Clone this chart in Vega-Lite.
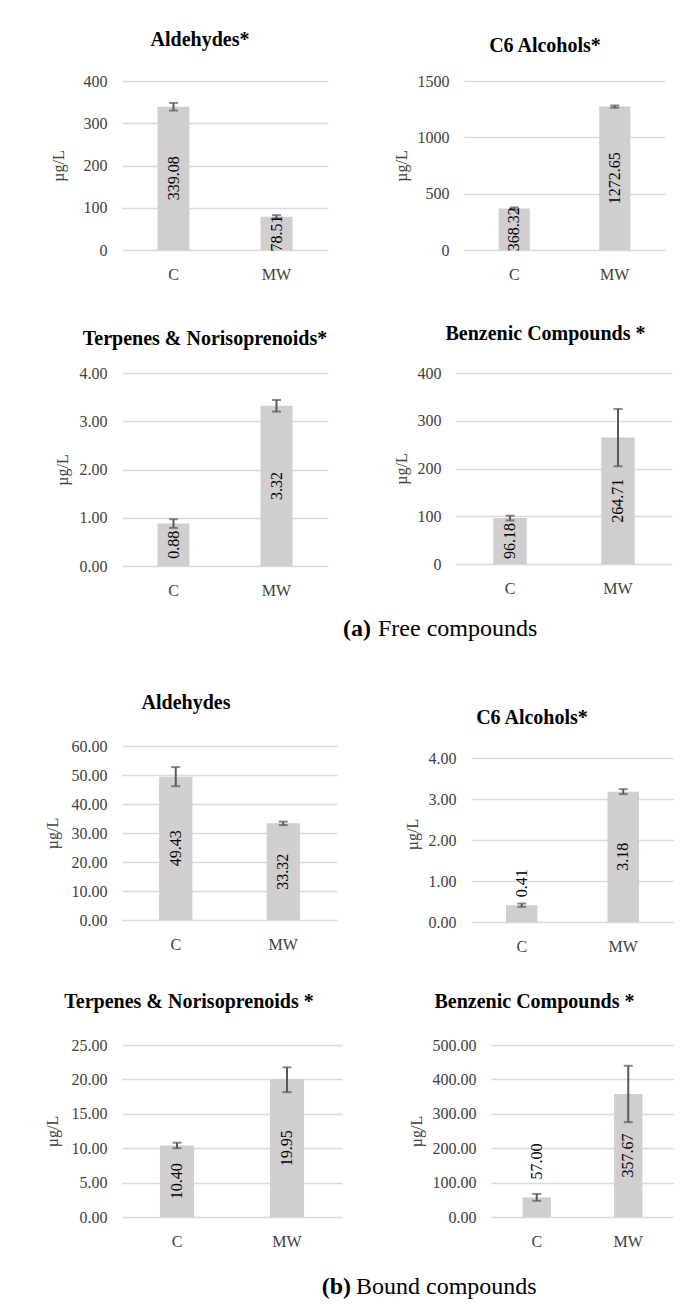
{
  "$schema": "https://vega.github.io/schema/vega-lite/v6.json",
  "background": "white",
  "autosize": {"type": "pad"},
  "padding": {"left": 44, "top": 30, "right": 0, "bottom": 0},
  "config": {
    "font": "Liberation Serif",
    "view": {"stroke": null},
    "title": {"font": "Liberation Serif", "fontSize": 20, "fontWeight": "bold", "color": "#000000", "frame": "group", "anchor": "middle", "baseline": "alphabetic"},
    "axisY": {"grid": true, "gridColor": "#d9d9d9", "gridWidth": 1.3, "domain": false, "ticks": false, "labelPadding": 15, "labelFontSize": 16, "labelColor": "#404040", "titleFontSize": 16, "titleFontWeight": "normal", "titleColor": "#404040", "titlePadding": 8},
    "axisX": {"grid": false, "domain": false, "ticks": false, "labelAngle": 0, "labelPadding": 16, "labelFontSize": 16, "labelColor": "#404040"}
  },
  "datasets": {
    "free_aldehydes": [{"group": "C", "value": 339.08, "sd": 9}, {"group": "MW", "value": 78.51, "sd": 4}],
    "free_c6": [{"group": "C", "value": 368.32, "sd": 10}, {"group": "MW", "value": 1272.65, "sd": 10}],
    "free_terp": [{"group": "C", "value": 0.88, "sd": 0.09}, {"group": "MW", "value": 3.32, "sd": 0.12}],
    "free_benz": [{"group": "C", "value": 96.18, "sd": 5}, {"group": "MW", "value": 264.71, "sd": 60}],
    "bound_aldehydes": [{"group": "C", "value": 49.43, "sd": 3.3}, {"group": "MW", "value": 33.32, "sd": 0.6}],
    "bound_c6": [{"group": "C", "value": 0.41, "sd": 0.04}, {"group": "MW", "value": 3.18, "sd": 0.06}],
    "bound_terp": [{"group": "C", "value": 10.40, "sd": 0.4}, {"group": "MW", "value": 19.95, "sd": 1.8}],
    "bound_benz": [{"group": "C", "value": 57.00, "sd": 10}, {"group": "MW", "value": 357.67, "sd": 82}],
    "cap_a": [{"label": "(a)", "caption": "Free compounds"}],
    "cap_b": [{"label": "(b)", "caption": "Bound compounds"}]
  },
  "vconcat": [
    {
      "vconcat": [
        {
          "vconcat": [
            {
              "hconcat": [
                {
                  "title": {"text": "Aldehydes*", "offset": 23, "dx": -25},
                  "width": 206, "height": 169,
                  "data": {"name": "free_aldehydes"},
                  "resolve": {"scale": {"y": "independent"}},
                  "layer": [
                    {"mark": {"type": "bar", "color": "#d0cece", "width": {"band": 0.31}},
                     "encoding": {
                       "x": {"field": "group", "type": "nominal", "sort": ["C", "MW"], "title": null, "scale": {"paddingInner": 0, "paddingOuter": 0}},
                       "y": {"field": "value", "type": "quantitative", "scale": {"domain": [0, 400], "nice": false}, "axis": {"title": "µg/L", "titlePadding": 17, "values": [0, 100, 200, 300, 400], "format": "d"}}}},
                    {"mark": {"type": "errorbar", "color": "#595959", "thickness": 2, "ticks": {"size": 9, "thickness": 2}},
                     "encoding": {
                       "x": {"field": "group", "type": "nominal", "sort": ["C", "MW"], "title": null},
                       "y": {"field": "value", "type": "quantitative", "scale": {"domain": [0, 400], "nice": false}, "axis": null},
                       "yError": {"field": "sd"}}},
                    {"mark": {"type": "text", "angle": 270, "fontSize": 16, "color": "#000000", "baseline": "middle"},
                     "encoding": {
                       "x": {"field": "group", "type": "nominal", "sort": ["C", "MW"], "title": null},
                       "y": {"field": "value", "type": "quantitative", "scale": {"domain": [0, 800], "nice": false}, "axis": null},
                       "text": {"field": "value", "type": "quantitative", "format": ".2f"}}}
                  ]
                },
                {
                  "title": {"text": "C6 Alcohols*", "offset": 17, "dx": -19.5},
                  "width": 201, "height": 169,
                  "data": {"name": "free_c6"},
                  "resolve": {"scale": {"y": "independent"}},
                  "layer": [
                    {"mark": {"type": "bar", "color": "#d0cece", "width": {"band": 0.31}},
                     "encoding": {
                       "x": {"field": "group", "type": "nominal", "sort": ["C", "MW"], "title": null, "scale": {"paddingInner": 0, "paddingOuter": 0}},
                       "y": {"field": "value", "type": "quantitative", "scale": {"domain": [0, 1500], "nice": false}, "axis": {"title": "µg/L", "values": [0, 500, 1000, 1500], "format": "d"}}}},
                    {"mark": {"type": "errorbar", "color": "#595959", "thickness": 2, "ticks": {"size": 9, "thickness": 2}},
                     "encoding": {
                       "x": {"field": "group", "type": "nominal", "sort": ["C", "MW"], "title": null},
                       "y": {"field": "value", "type": "quantitative", "scale": {"domain": [0, 1500], "nice": false}, "axis": null},
                       "yError": {"field": "sd"}}},
                    {"mark": {"type": "text", "angle": 270, "fontSize": 16, "color": "#000000", "baseline": "middle"},
                     "encoding": {
                       "x": {"field": "group", "type": "nominal", "sort": ["C", "MW"], "title": null},
                       "y": {"field": "value", "type": "quantitative", "scale": {"domain": [0, 3000], "nice": false}, "axis": null},
                       "text": {"field": "value", "type": "quantitative", "format": ".2f"}}}
                  ]
                }
              ],
              "spacing": 136,
              "bounds": "flush"
            },
            {
              "hconcat": [
                {
                  "title": {"text": "Terpenes & Norisoprenoids*", "offset": 16, "dx": -20},
                  "width": 206, "height": 193,
                  "data": {"name": "free_terp"},
                  "resolve": {"scale": {"y": "independent"}},
                  "layer": [
                    {"mark": {"type": "bar", "color": "#d0cece", "width": {"band": 0.31}},
                     "encoding": {
                       "x": {"field": "group", "type": "nominal", "sort": ["C", "MW"], "title": null, "scale": {"paddingInner": 0, "paddingOuter": 0}},
                       "y": {"field": "value", "type": "quantitative", "scale": {"domain": [0, 4], "nice": false}, "axis": {"title": "µg/L", "titlePadding": 8.5, "values": [0, 1, 2, 3, 4], "format": ".2f"}}}},
                    {"mark": {"type": "errorbar", "color": "#595959", "thickness": 2, "ticks": {"size": 9, "thickness": 2}},
                     "encoding": {
                       "x": {"field": "group", "type": "nominal", "sort": ["C", "MW"], "title": null},
                       "y": {"field": "value", "type": "quantitative", "scale": {"domain": [0, 4], "nice": false}, "axis": null},
                       "yError": {"field": "sd"}}},
                    {"mark": {"type": "text", "angle": 270, "fontSize": 16, "color": "#000000", "baseline": "middle"},
                     "encoding": {
                       "x": {"field": "group", "type": "nominal", "sort": ["C", "MW"], "title": null},
                       "y": {"field": "value", "type": "quantitative", "scale": {"domain": [0, 8], "nice": false}, "axis": null},
                       "text": {"field": "value", "type": "quantitative", "format": ".2f"}}}
                  ]
                },
                {
                  "title": {"text": "Benzenic Compounds *", "offset": 21, "dx": -18.5},
                  "width": 216, "height": 191,
                  "data": {"name": "free_benz"},
                  "resolve": {"scale": {"y": "independent"}},
                  "layer": [
                    {"mark": {"type": "bar", "color": "#d0cece", "width": {"band": 0.31}},
                     "encoding": {
                       "x": {"field": "group", "type": "nominal", "sort": ["C", "MW"], "title": null, "scale": {"paddingInner": 0, "paddingOuter": 0}},
                       "y": {"field": "value", "type": "quantitative", "scale": {"domain": [0, 400], "nice": false}, "axis": {"title": "µg/L", "values": [0, 100, 200, 300, 400], "format": "d"}}}},
                    {"mark": {"type": "errorbar", "color": "#595959", "thickness": 2, "ticks": {"size": 9, "thickness": 2}},
                     "encoding": {
                       "x": {"field": "group", "type": "nominal", "sort": ["C", "MW"], "title": null},
                       "y": {"field": "value", "type": "quantitative", "scale": {"domain": [0, 400], "nice": false}, "axis": null},
                       "yError": {"field": "sd"}}},
                    {"mark": {"type": "text", "angle": 270, "fontSize": 16, "color": "#000000", "baseline": "middle"},
                     "encoding": {
                       "x": {"field": "group", "type": "nominal", "sort": ["C", "MW"], "title": null},
                       "y": {"field": "value", "type": "quantitative", "scale": {"domain": [0, 800], "nice": false}, "axis": null},
                       "text": {"field": "value", "type": "quantitative", "format": ".2f"}}}
                  ]
                }
              ],
              "spacing": 128,
              "bounds": "flush"
            }
          ],
          "spacing": 42
        },
        {
          "width": 504, "height": 24,
          "data": {"name": "cap_a"},
          "layer": [
            {"mark": {"type": "text", "align": "right", "baseline": "middle", "fontSize": 24, "fontWeight": "bold", "color": "#000000", "dx": -3},
             "encoding": {"text": {"field": "label", "type": "nominal"}}},
            {"mark": {"type": "text", "align": "left", "baseline": "middle", "fontSize": 24, "color": "#000000", "dx": 4},
             "encoding": {"text": {"field": "caption", "type": "nominal"}}}
          ]
        }
      ],
      "spacing": 19
    },
    {
      "vconcat": [
        {
          "vconcat": [
            {
              "hconcat": [
                {
                  "title": {"text": "Aldehydes", "offset": 25, "dx": -43.5},
                  "width": 215, "height": 174,
                  "data": {"name": "bound_aldehydes"},
                  "resolve": {"scale": {"y": "independent"}},
                  "layer": [
                    {"mark": {"type": "bar", "color": "#d0cece", "width": {"band": 0.31}},
                     "encoding": {
                       "x": {"field": "group", "type": "nominal", "sort": ["C", "MW"], "title": null, "scale": {"paddingInner": 0, "paddingOuter": 0}},
                       "y": {"field": "value", "type": "quantitative", "scale": {"domain": [0, 60], "nice": false}, "axis": {"title": "µg/L", "titlePadding": 11, "values": [0, 10, 20, 30, 40, 50, 60], "format": ".2f"}}}},
                    {"mark": {"type": "errorbar", "color": "#595959", "thickness": 2, "ticks": {"size": 9, "thickness": 2}},
                     "encoding": {
                       "x": {"field": "group", "type": "nominal", "sort": ["C", "MW"], "title": null},
                       "y": {"field": "value", "type": "quantitative", "scale": {"domain": [0, 60], "nice": false}, "axis": null},
                       "yError": {"field": "sd"}}},
                    {"mark": {"type": "text", "angle": 270, "fontSize": 16, "color": "#000000", "baseline": "middle"},
                     "encoding": {
                       "x": {"field": "group", "type": "nominal", "sort": ["C", "MW"], "title": null},
                       "y": {"field": "value", "type": "quantitative", "scale": {"domain": [0, 120], "nice": false}, "axis": null},
                       "text": {"field": "value", "type": "quantitative", "format": ".2f"}}}
                  ]
                },
                {
                  "title": {"text": "C6 Alcohols*", "offset": 18, "dx": -40.5},
                  "width": 203, "height": 176,
                  "data": {"name": "bound_c6"},
                  "resolve": {"scale": {"y": "independent"}},
                  "layer": [
                    {"mark": {"type": "bar", "color": "#d0cece", "width": {"band": 0.31}},
                     "encoding": {
                       "x": {"field": "group", "type": "nominal", "sort": ["C", "MW"], "title": null, "scale": {"paddingInner": 0, "paddingOuter": 0}},
                       "y": {"field": "value", "type": "quantitative", "scale": {"domain": [0, 4.293], "nice": false}, "axis": {"title": "µg/L", "values": [0, 1, 2, 3, 4], "format": ".2f"}}}},
                    {"mark": {"type": "errorbar", "color": "#595959", "thickness": 2, "ticks": {"size": 9, "thickness": 2}},
                     "encoding": {
                       "x": {"field": "group", "type": "nominal", "sort": ["C", "MW"], "title": null},
                       "y": {"field": "value", "type": "quantitative", "scale": {"domain": [0, 4.293], "nice": false}, "axis": null},
                       "yError": {"field": "sd"}}},
                    {"transform": [{"filter": "datum.group == 'MW'"}],
                     "mark": {"type": "text", "angle": 270, "fontSize": 16, "color": "#000000", "baseline": "middle"},
                     "encoding": {
                       "x": {"field": "group", "type": "nominal", "sort": ["C", "MW"], "title": null},
                       "y": {"field": "value", "type": "quantitative", "scale": {"domain": [0, 8.586], "nice": false}, "axis": null},
                       "text": {"field": "value", "type": "quantitative", "format": ".2f"}}},
                    {"transform": [{"filter": "datum.group == 'C'"}],
                     "mark": {"type": "text", "angle": 270, "fontSize": 16, "color": "#000000", "baseline": "middle", "align": "left", "dx": 8},
                     "encoding": {
                       "x": {"field": "group", "type": "nominal", "sort": ["C", "MW"], "title": null},
                       "y": {"field": "value", "type": "quantitative", "scale": {"domain": [0, 4.293], "nice": false}, "axis": null},
                       "text": {"field": "value", "type": "quantitative", "format": ".2f"}}}
                  ]
                }
              ],
              "spacing": 134,
              "bounds": "flush"
            },
            {
              "hconcat": [
                {
                  "title": {"text": "Terpenes & Norisoprenoids *", "offset": 25, "dx": -43},
                  "width": 220, "height": 172,
                  "data": {"name": "bound_terp"},
                  "resolve": {"scale": {"y": "independent"}},
                  "layer": [
                    {"mark": {"type": "bar", "color": "#d0cece", "width": {"band": 0.31}},
                     "encoding": {
                       "x": {"field": "group", "type": "nominal", "sort": ["C", "MW"], "title": null, "scale": {"paddingInner": 0, "paddingOuter": 0}},
                       "y": {"field": "value", "type": "quantitative", "scale": {"domain": [0, 25], "nice": false}, "axis": {"title": "µg/L", "titlePadding": 10.5, "values": [0, 5, 10, 15, 20, 25], "format": ".2f"}}}},
                    {"mark": {"type": "errorbar", "color": "#595959", "thickness": 2, "ticks": {"size": 9, "thickness": 2}},
                     "encoding": {
                       "x": {"field": "group", "type": "nominal", "sort": ["C", "MW"], "title": null},
                       "y": {"field": "value", "type": "quantitative", "scale": {"domain": [0, 25], "nice": false}, "axis": null},
                       "yError": {"field": "sd"}}},
                    {"mark": {"type": "text", "angle": 270, "fontSize": 16, "color": "#000000", "baseline": "middle"},
                     "encoding": {
                       "x": {"field": "group", "type": "nominal", "sort": ["C", "MW"], "title": null},
                       "y": {"field": "value", "type": "quantitative", "scale": {"domain": [0, 50], "nice": false}, "axis": null},
                       "text": {"field": "value", "type": "quantitative", "format": ".2f"}}}
                  ]
                },
                {
                  "title": {"text": "Benzenic Compounds *", "offset": 25, "dx": -48},
                  "width": 183, "height": 172,
                  "data": {"name": "bound_benz"},
                  "resolve": {"scale": {"y": "independent"}},
                  "layer": [
                    {"mark": {"type": "bar", "color": "#d0cece", "width": {"band": 0.31}},
                     "encoding": {
                       "x": {"field": "group", "type": "nominal", "sort": ["C", "MW"], "title": null, "scale": {"paddingInner": 0, "paddingOuter": 0}},
                       "y": {"field": "value", "type": "quantitative", "scale": {"domain": [0, 500], "nice": false}, "axis": {"title": "µg/L", "values": [0, 100, 200, 300, 400, 500], "format": ".2f"}}}},
                    {"mark": {"type": "errorbar", "color": "#595959", "thickness": 2, "ticks": {"size": 9, "thickness": 2}},
                     "encoding": {
                       "x": {"field": "group", "type": "nominal", "sort": ["C", "MW"], "title": null},
                       "y": {"field": "value", "type": "quantitative", "scale": {"domain": [0, 500], "nice": false}, "axis": null},
                       "yError": {"field": "sd"}}},
                    {"transform": [{"filter": "datum.group == 'MW'"}],
                     "mark": {"type": "text", "angle": 270, "fontSize": 16, "color": "#000000", "baseline": "middle"},
                     "encoding": {
                       "x": {"field": "group", "type": "nominal", "sort": ["C", "MW"], "title": null},
                       "y": {"field": "value", "type": "quantitative", "scale": {"domain": [0, 1000], "nice": false}, "axis": null},
                       "text": {"field": "value", "type": "quantitative", "format": ".2f"}}},
                    {"transform": [{"filter": "datum.group == 'C'"}],
                     "mark": {"type": "text", "angle": 270, "fontSize": 16, "color": "#000000", "baseline": "middle", "align": "left", "dx": 18},
                     "encoding": {
                       "x": {"field": "group", "type": "nominal", "sort": ["C", "MW"], "title": null},
                       "y": {"field": "value", "type": "quantitative", "scale": {"domain": [0, 500], "nice": false}, "axis": null},
                       "text": {"field": "value", "type": "quantitative", "format": ".2f"}}}
                  ]
                }
              ],
              "spacing": 149,
              "bounds": "flush"
            }
          ],
          "spacing": 38
        },
        {
          "width": 504, "height": 24,
          "data": {"name": "cap_b"},
          "layer": [
            {"mark": {"type": "text", "align": "right", "baseline": "middle", "fontSize": 24, "fontWeight": "bold", "color": "#000000", "dx": -23},
             "encoding": {"text": {"field": "label", "type": "nominal"}}},
            {"mark": {"type": "text", "align": "left", "baseline": "middle", "fontSize": 24, "color": "#000000", "dx": -18},
             "encoding": {"text": {"field": "caption", "type": "nominal"}}}
          ]
        }
      ],
      "spacing": 26
    }
  ],
  "spacing": 52
}
